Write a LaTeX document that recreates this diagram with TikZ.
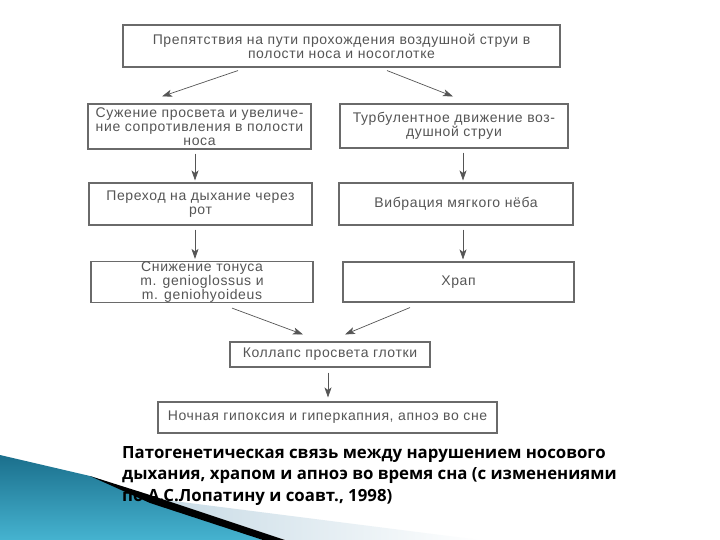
\documentclass[tikz,border=0pt]{standalone}
\usepackage{fontspec}
\setmainfont{Liberation Sans}[LetterSpace=4.5]
\newfontfamily\capfont{Open Sans}[BoldFont={Open Sans Bold}]
\usetikzlibrary{arrows.meta,shadings}
\definecolor{boxline}{HTML}{6A6A6A}
\definecolor{boxtext}{HTML}{555555}
\definecolor{arrcol}{HTML}{555555}
\definecolor{tealdark}{HTML}{1B6F8C}
\definecolor{teallight}{HTML}{45B3D0}
\definecolor{paleblue}{HTML}{C5D9E4}
\begin{document}
\begin{tikzpicture}[x=1pt,y=-1pt,
  flowbox/.style={draw=boxline,line width=1.1pt,fill=white,align=center,
    text=boxtext,font=\fontsize{14}{14.2}\selectfont,inner sep=0pt,
    minimum width=#1},
  arr/.style={draw=arrcol,line width=0.7pt,-{Stealth[length=10pt,width=7pt,inset=2.5pt]}}]
\useasboundingbox (0,0) rectangle (720,540);
\fill[white] (0,0) rectangle (720,540);
% decoration bottom-left
\shade[left color=paleblue,right color=white] (150,498) -- (480,540) -- (285,540) -- cycle;
\shade[shading angle=135,top color=tealdark,bottom color=teallight]
  (0,455) -- (90,476) -- (263,540) -- (0,540) -- cycle;
\fill[black] (90,476) -- (150,495) -- (285,540) -- (263,540) -- (150,503) -- cycle;
% boxes
\node[flowbox=437pt,minimum height=42pt] (top) at (341.5,46)
  {Препятствия на пути прохождения воздушной струи в\\полости носа и носоглотке};
\node[flowbox=223pt,minimum height=45pt] (a1) at (199.5,126.5)
  {Сужение просвета и увеличе-\\ние сопротивления в полости\\носа};
\node[flowbox=228pt,minimum height=44pt] (b1) at (454,126)
  {Турбулентное движение воз-\\душной струи};
\node[flowbox=223pt,minimum height=42pt] (a2) at (200.5,204)
  {Переход на дыхание через\\рот};
\node[flowbox=234pt,minimum height=42pt] (b2) at (456,204)
  {Вибрация мягкого нёба};
\node[flowbox=222pt,minimum height=40pt] (a3) at (202,282)
  {Снижение тонуса\\m. genioglossus и\\m. geniohyoideus};
\node[flowbox=231pt,minimum height=40pt] (b3) at (458.5,282)
  {Храп};
\node[flowbox=200pt,minimum height=25pt] (c) at (330,354.5)
  {Коллапс просвета глотки};
\node[flowbox=339pt,minimum height=31pt] (d) at (327.5,417.5)
  {Ночная гипоксия и гиперкапния, апноэ во сне};
% arrows
\draw[arr] ([xshift=-103.5pt,yshift=-3pt]top.south) -- ([xshift=-37.5pt,yshift=7pt]a1.north);
\draw[arr] ([xshift=45.5pt,yshift=-3pt]top.south) -- ([xshift=-1pt,yshift=7pt]b1.north);
\draw[arr] ([xshift=-4.5pt,yshift=-4pt]a1.south) -- ([xshift=-5.5pt,yshift=2pt]a2.north);
\draw[arr] ([xshift=9pt,yshift=-4pt]b1.south) -- ([xshift=7pt,yshift=2pt]b2.north);
\draw[arr] ([xshift=-5.5pt,yshift=-4pt]a2.south) -- ([xshift=-7pt,yshift=2pt]a3.north);
\draw[arr] ([xshift=7pt,yshift=-4pt]b2.south) -- ([xshift=4.5pt,yshift=2pt]b3.north);
\draw[arr] ([xshift=30pt,yshift=-5pt]a3.south) -- ([xshift=-27pt,yshift=7pt]c.north);
\draw[arr] ([xshift=-48.5pt,yshift=-5pt]b3.south) -- ([xshift=15pt,yshift=7pt]c.north);
\draw[arr] ([xshift=-2pt,yshift=-5pt]c.south) -- ([xshift=0.5pt,yshift=4pt]d.north);
% caption
\node[anchor=north west,align=left,inner sep=0pt,font=\capfont\bfseries\fontsize{16.8}{21.5}\selectfont]
  (cap) at (122,446)
  {Патогенетическая связь между нарушением носового\\дыхания, храпом и апноэ во время сна (с изменениями\\по А.С.Лопатину и соавт., 1998)};
\end{tikzpicture}
\end{document}
